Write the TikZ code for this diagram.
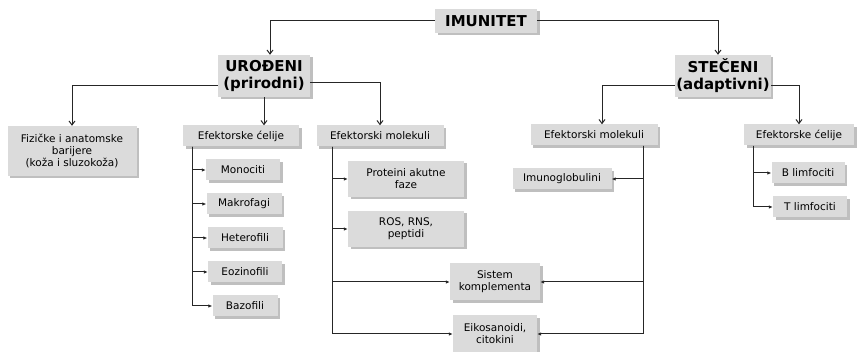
\documentclass[tikz,border=0pt]{standalone}
\usepackage{fontspec}
\setmainfont{DejaVu Sans}
\usetikzlibrary{arrows.meta, shadows}

\begin{document}
\begin{tikzpicture}[x=1pt, y=-1pt,
  box/.style={fill=black!14, drop shadow={shadow xshift=2.5pt, shadow yshift=-2.5pt, fill=black!50, opacity=0.5},
    align=center, inner sep=1pt, minimum height=21, font=\fontsize{10.5}{12}\selectfont},
  title/.style={box, font=\fontsize{15}{17}\selectfont\bfseries},
  line/.style={draw=black!85, line width=1pt},
  arr/.style={line, -{Latex[length=4pt,width=3.5pt]}},
  bigarr/.style={line, -{Straight Barb[length=4pt,width=6pt]}}]

\useasboundingbox (0,0) rectangle (860,352);

\node[title, minimum width=102, minimum height=24] (imun) at (486,21) {IMUNITET};
\node[title, minimum width=92, minimum height=42] (urod) at (264,76) {UROĐENI\\(prirodni)};
\node[title, minimum width=94, minimum height=42] (stec) at (723,76) {STEČENI\\(adaptivni)};

\node[box, minimum width=129, minimum height=50] (fiz) at (72,151) {Fizičke i anatomske\\barijere\\(koža i sluzokoža)};
\node[box, minimum width=116] (efcel) at (241,136) {Efektorske ćelije};
\node[box, minimum width=127] (efmol) at (380,136) {Efektorski molekuli};
\node[box, minimum width=127] (efmolb) at (594,135) {Efektorski molekuli};
\node[box, minimum width=110] (efcelb) at (799,135) {Efektorske ćelije};

\node[box, minimum width=74] (mono) at (243,170) {Monociti};
\node[box, minimum width=75] (makro) at (244,204) {Makrofagi};
\node[box, minimum width=75] (hetero) at (245,238) {Heterofili};
\node[box, minimum width=74] (eozi) at (245,272) {Eozinofili};
\node[box, minimum width=65] (bazo) at (245,306) {Bazofili};

\node[box, minimum width=116, minimum height=36] (prot) at (406,179) {Proteini akutne\\faze};
\node[box, minimum width=116, minimum height=36] (ros) at (406,229) {ROS, RNS,\\peptidi};
\node[box, minimum width=90, minimum height=37] (sist) at (495,282) {Sistem\\komplementa};
\node[box, minimum width=84, minimum height=37] (eiko) at (495,334) {Eikosanoidi,\\citokini};

\node[box, minimum width=99] (imuno) at (562,179) {Imunoglobulini};
\node[box, minimum width=73] (blim) at (808,173) {B limfociti};
\node[box, minimum width=74] (tlim) at (810,207) {T limfociti};

\draw[bigarr] (imun.west) -| ([xshift=6pt]urod.north);
\draw[bigarr] (imun.east) -| ([xshift=-5pt]stec.north);

\draw[bigarr] ([yshift=-10pt]urod.west) -| (fiz.north);
\draw[bigarr] (urod.south) -- (urod.south |- efcel.north);
\draw[bigarr] ([yshift=-7pt]urod.east) -| (efmol.north);
\draw[bigarr] ([yshift=-10pt]stec.west) -| ([xshift=8pt]efmolb.north);
\draw[bigarr] ([yshift=-10pt]stec.east) -| (efcelb.north);

\foreach \n in {mono,makro,hetero,eozi,bazo}
  \draw[arr] ([xshift=10pt]efcel.south west) |- (\n.west);
\foreach \n in {prot,ros,sist,eiko}
  \draw[arr] ([xshift=16pt]efmol.south west) |- (\n.west);
\foreach \n in {imuno,sist,eiko}
  \draw[arr] ([xshift=-14pt]efmolb.south east) |- (\n.east);
\foreach \n in {blim,tlim}
  \draw[arr] ([xshift=10pt]efcelb.south west) |- (\n.west);

\end{tikzpicture}
\end{document}
